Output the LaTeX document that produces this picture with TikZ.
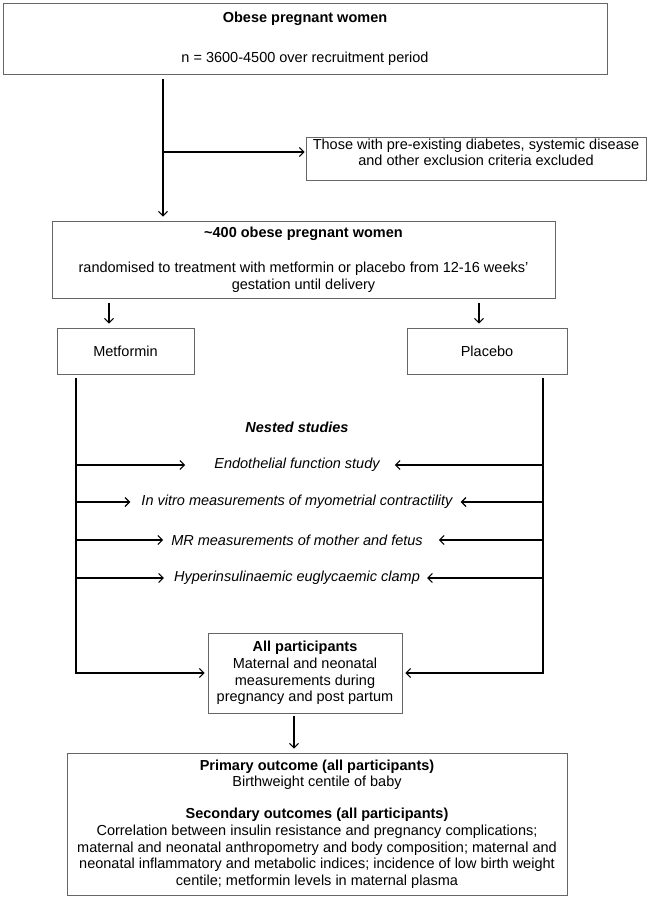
\documentclass[tikz,border=0pt]{standalone}
\usepackage{fontspec}
\setmainfont{Liberation Sans}
\usetikzlibrary{arrows.meta,calc}
\newcommand\dgfont{\fontsize{14.5pt}{16.6pt}\selectfont}
\tikzset{
  box/.style={draw=black!60, line width=0.8pt, align=center, inner sep=0pt, font=\dgfont},
  arr/.style={draw=black, line width=1.1pt, -{Straight Barb[length=4.5pt,width=9pt]}},
  nest/.style={inner sep=0pt, font=\dgfont\itshape},
}
\begin{document}
\begin{tikzpicture}[x=1pt,y=-1pt]
\useasboundingbox (0,0) rectangle (650,899);
\fill[white] (0,0) rectangle (650,899);
% boxes
\node[box, minimum width=604pt, minimum height=71pt] (top) at (305,38.5)
  {\textbf{Obese pregnant women}\\[23.4pt] n = 3600-4500 over recruitment period};
\node[box, minimum width=340pt, minimum height=43pt] (excl) at (476,158.5)
  {Those with pre-existing diabetes, systemic disease\\ and other exclusion criteria excluded\\[-4pt]\rule{0pt}{10pt}};
\node[box, minimum width=503pt, minimum height=77pt] (mid) at (303.5,259.5)
  {\textbf{\textasciitilde400 obese pregnant women}\\[18.4pt] randomised to treatment with metformin or placebo from 12-16 weeks’\\ gestation until delivery};
\node[box, minimum width=137pt, minimum height=46pt] (met) at (125.5,351) {Metformin};
\node[box, minimum width=160pt, minimum height=46pt] (plac) at (487,351) {Placebo};
\node[nest] (ns) at (297,427) {\bfseries Nested studies};
\node[nest] (s1) at (297,465) {Endothelial function study};
\node[nest] (s2) at (297,502) {In vitro measurements of myometrial contractility};
\node[nest] (s3) at (297,540) {MR measurements of mother and fetus};
\node[nest] (s4) at (297,578) {Hyperinsulinaemic euglycaemic clamp};
\node[box, minimum width=194pt, minimum height=80pt] (allp) at (305,673)
  {\textbf{All participants}\\ Maternal and neonatal\\ measurements during\\ pregnancy and post partum};
\node[box, minimum width=500pt, minimum height=142pt] (bot) at (317,824)
  {\textbf{Primary outcome (all participants)}\\ Birthweight centile of baby\\[15.4pt]
   \textbf{Secondary outcomes (all participants)}\\
   Correlation between insulin resistance and pregnancy complications;\\
   maternal and neonatal anthropometry and body composition; maternal and\\
   neonatal inflammatory and metabolic indices; incidence of low birth weight\\
   centile; metformin levels in maternal plasma};
% guide coordinates
\coordinate (trunk) at (163,0);
\coordinate (br) at (163,152);
\coordinate (mx) at (109,0);
\coordinate (px) at (479,0);
\coordinate (lx) at (76,0);
\coordinate (rx) at (543,0);
\coordinate (dx) at (294,0);
% connectors
\draw[arr, shorten <=5pt, shorten >=4pt] (top.south -| trunk) -- (mid.north -| trunk);
\draw[arr, shorten >=1pt] (br) -- (br -| excl.west);
\draw[arr, shorten <=5pt, shorten >=4pt] (mid.south -| mx) -- (met.north -| mx);
\draw[arr, shorten <=5pt, shorten >=4pt] (mid.south -| px) -- (plac.north -| px);
\draw[arr, shorten <=4pt, shorten >=3pt] (met.south -| lx) |- (allp.west);
\draw[arr, shorten <=4pt, shorten >=3pt] (plac.south -| rx) |- (allp.east);
\draw[arr, shorten <=3pt, shorten >=4pt] (allp.south -| dx) -- (bot.north -| dx);
\draw[arr, shorten >=29pt] (s1 -| lx) -- (s1.west);
\draw[arr, shorten >=15pt] (s1 -| rx) -- (s1.east);
\draw[arr, shorten >=11pt] (s2 -| lx) -- (s2.west);
\draw[arr, shorten >=8pt] (s2 -| rx) -- (s2.east);
\draw[arr, shorten >=8pt] (s3 -| lx) -- (s3.west);
\draw[arr, shorten >=16pt] (s3 -| rx) -- (s3.east);
\draw[arr, shorten >=10pt] (s4 -| lx) -- (s4.west);
\draw[arr, shorten >=7pt] (s4 -| rx) -- (s4.east);
\end{tikzpicture}
\end{document}
